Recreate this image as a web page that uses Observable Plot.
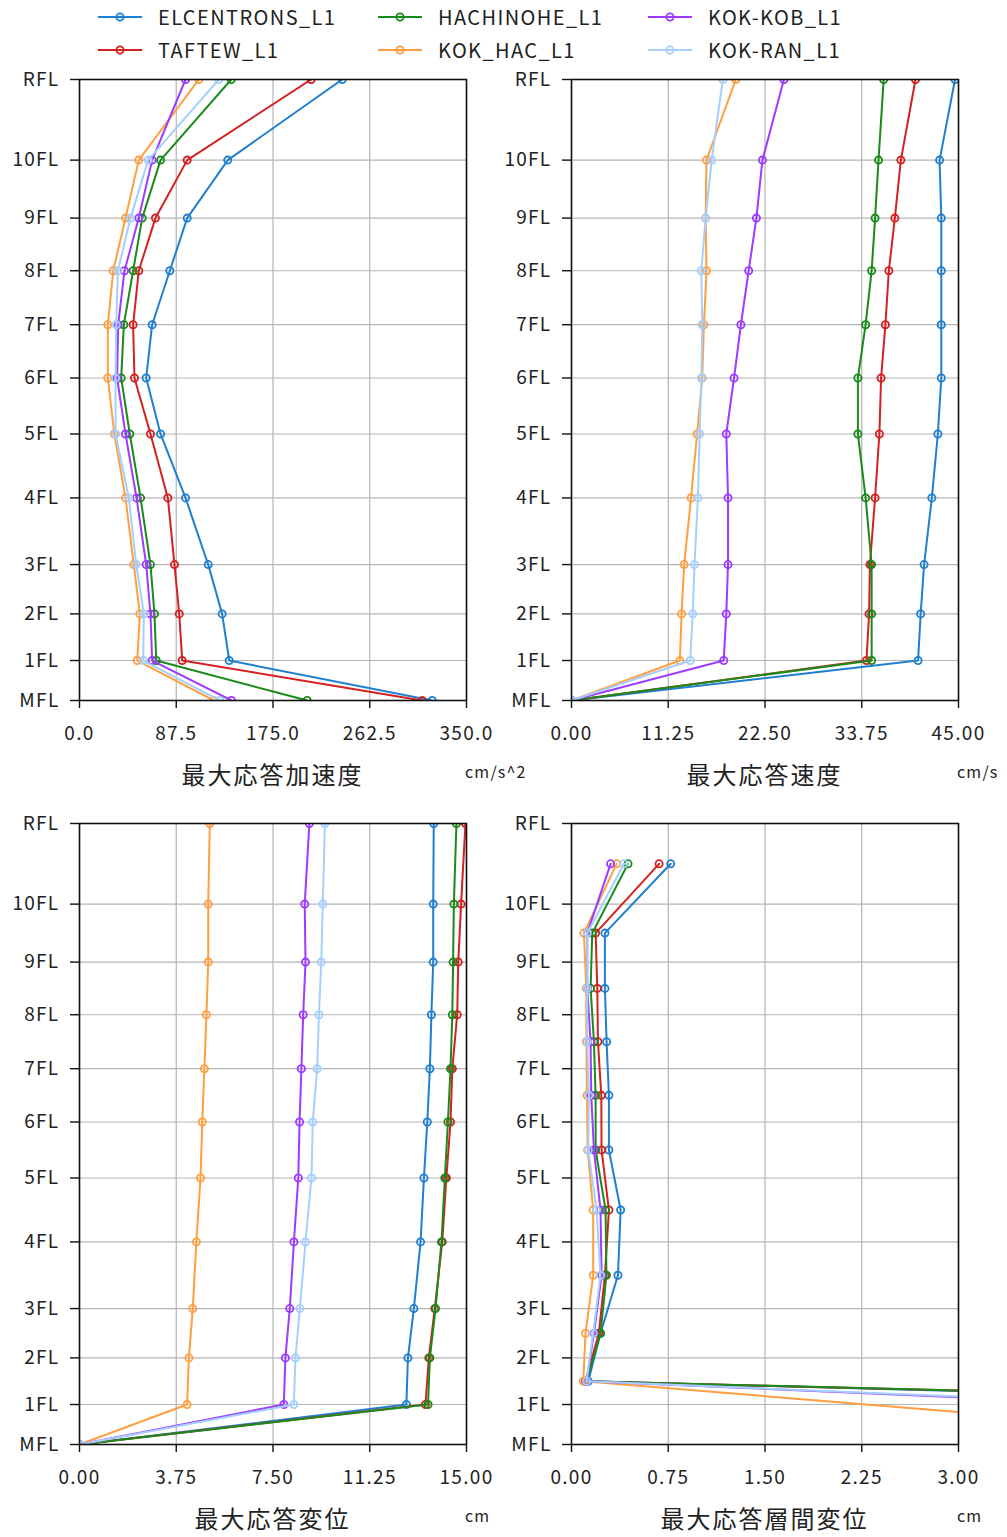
<!DOCTYPE html>
<html>
<head>
<meta charset="utf-8">
<script src="https://cdn.jsdelivr.net/npm/d3@7"></script>
<script src="https://cdn.jsdelivr.net/npm/@observablehq/plot@0.6"></script>
<style>
  html, body { margin: 0; padding: 0; background: #fff; }
  #root { position: relative; width: 1007px; height: 1537px; overflow: hidden;
          font-family: "Noto Sans CJK JP", "Noto Sans", sans-serif; color: #222; }
  .panel { position: absolute; }
  .panel svg { overflow: visible; }
  .panel svg text { letter-spacing: 1.3px; }
  .title { position: absolute; font-size: 24px; line-height: 1; letter-spacing: 2px;
           transform: translateX(-50%); white-space: nowrap; color: #222; }
  .unit { position: absolute; font-size: 16px; line-height: 1; letter-spacing: 1.2px; white-space: nowrap; color: #222; }
  .leg { position: absolute; display: flex; align-items: center; height: 24px; }
  .leg span { font-size: 20px; letter-spacing: 1.4px; line-height: 1; margin-left: 14px; color: #222; }
</style>
</head>
<body>
<div id="root"></div>
<script>
// ---------------- data ----------------
const floors = ["MFL","1FL","2FL","3FL","4FL","5FL","6FL","7FL","8FL","9FL","10FL","RFL"];
const elevations = [0, 3.0, 6.5, 10.2, 15.2, 20.0, 24.2, 28.2, 32.25, 36.2, 40.55, 46.6];
const series = ["ELCENTRONS_L1","TAFTEW_L1","HACHINOHE_L1","KOK_HAC_L1","KOK-KOB_L1","KOK-RAN_L1"];
const colors = ["#1f7fd0","#d42020","#1a8a1a","#ff9f40","#9d3cff","#a4cfff"];

// 最大応答加速度 (cm/s^2), MFL -> RFL
const accElcentro = [319, 135.4, 129, 116.4, 95.9, 73.3, 60.3, 65.7, 81.7, 97.4, 134.1, 237.6];
const accTaft     = [309.9, 92.9, 90.2, 85.9, 79.9, 64.2, 49.7, 48.5, 53.6, 68.7, 97.4, 209.5];
const accHachi    = [205.9, 69.4, 67.8, 64.2, 55.2, 45.5, 37.7, 40.1, 48.5, 56.7, 73.3, 137.2];
const accKokHac   = [121.5, 52.2, 54.6, 49.1, 41.6, 31.5, 25.6, 25.6, 30.5, 41.6, 53.6, 107.9];
const accKokKob   = [137.5, 65.7, 64.2, 60.3, 51.6, 41.6, 34.0, 35.0, 40.7, 53.6, 65.7, 95.9];
const accKokRan   = [126.9, 57.6, 58.2, 51.3, 44.6, 32.6, 32.6, 33.2, 34.7, 46.1, 62.1, 126.0];

// 最大応答速度 (cm/s)
const velElcentro = [0, 40.3, 40.6, 41.0, 41.9, 42.6, 43.0, 43.0, 43.0, 43.0, 42.8, 44.6];
const velTaft     = [0, 34.3, 34.6, 34.7, 35.3, 35.8, 36.0, 36.5, 36.9, 37.6, 38.3, 40.0];
const velHachi    = [0, 34.9, 34.9, 34.9, 34.2, 33.3, 33.3, 34.2, 34.9, 35.3, 35.7, 36.3];
const velKokHac   = [0, 12.6, 12.8, 13.1, 13.9, 14.6, 15.2, 15.4, 15.7, 15.6, 15.7, 19.1];
const velKokKob   = [0, 17.7, 18.0, 18.2, 18.2, 18.0, 18.9, 19.7, 20.6, 21.5, 22.2, 24.7];
const velKokRan   = [0, 13.8, 14.1, 14.3, 14.7, 14.9, 15.1, 15.2, 15.1, 15.6, 16.3, 17.6];

// 最大応答変位 (cm)
const dispElcentro = [0, 12.67, 12.73, 12.96, 13.22, 13.35, 13.48, 13.58, 13.64, 13.71, 13.71, 13.73];
const dispTaft     = [0, 13.41, 13.54, 13.77, 14.06, 14.22, 14.38, 14.45, 14.64, 14.68, 14.79, 14.96];
const dispHachi    = [0, 13.51, 13.58, 13.80, 14.03, 14.16, 14.28, 14.38, 14.45, 14.48, 14.51, 14.61];
const dispKokHac   = [0, 4.17, 4.24, 4.39, 4.53, 4.69, 4.76, 4.84, 4.92, 4.99, 4.99, 5.05];
const dispKokKob   = [0, 7.92, 7.98, 8.15, 8.31, 8.48, 8.53, 8.60, 8.67, 8.76, 8.73, 8.91];
const dispKokRan   = [0, 8.31, 8.37, 8.54, 8.76, 8.99, 9.04, 9.21, 9.28, 9.37, 9.43, 9.51];

// 最大応答層間変位 (cm), stories MFL-1FL ... 10FL-RFL
const driftElcentro = [12.67, 0.130, 0.225, 0.360, 0.381, 0.290, 0.290, 0.272, 0.259, 0.259, 0.769];
const driftTaft     = [13.41, 0.109, 0.212, 0.259, 0.290, 0.233, 0.231, 0.205, 0.200, 0.187, 0.679];
const driftHachi    = [13.51, 0.117, 0.225, 0.271, 0.264, 0.187, 0.187, 0.174, 0.148, 0.161, 0.438];
const driftKokHac   = [4.17, 0.091, 0.109, 0.168, 0.168, 0.125, 0.120, 0.115, 0.115, 0.096, 0.350];
const driftKokKob   = [7.92, 0.117, 0.174, 0.233, 0.225, 0.174, 0.153, 0.148, 0.122, 0.122, 0.303];
const driftKokRan   = [8.31, 0.117, 0.168, 0.225, 0.194, 0.130, 0.135, 0.122, 0.122, 0.122, 0.407];

const accTicks   = [0, 87.5, 175, 262.5, 350];
const velTicks   = [0, 11.25, 22.5, 33.75, 45];
const dispTicks  = [0, 3.75, 7.5, 11.25, 15];
const driftTicks = [0, 0.75, 1.5, 2.25, 3];

// mid-story elevations for story drift
const midStory = d3.range(elevations.length - 1).map(i => (elevations[i] + elevations[i + 1]) / 2);

// ---------------- drawing ----------------
const root = document.getElementById("root");
const FONT = '"Noto Sans CJK JP", "Noto Sans", sans-serif';

function panel({values, levels, ticks, fmt, left, top, title, unit}) {
  const marks = [
    Plot.gridX(ticks, {stroke: "#b4b4b4", strokeOpacity: 1, strokeWidth: 1.2}),
    Plot.gridY(elevations, {stroke: "#b4b4b4", strokeOpacity: 1, strokeWidth: 1.2})
  ];
  series.forEach((s, i) => {
    const data = values[i].map((v, j) => ({series: s, x: v, y: levels[j]}));
    marks.push(Plot.line(data, {x: "x", y: "y", stroke: colors[i], strokeWidth: 2, clip: true}));
    marks.push(Plot.dot(data, {x: "x", y: "y", stroke: colors[i], fill: "none", r: 3.6, strokeWidth: 1.8, clip: true}));
  });
  marks.push(Plot.frame({stroke: "#111", strokeWidth: 1.6}));
  marks.push(Plot.axisX(ticks, {tickFormat: fmt, tickSize: 8, tickPadding: 18, label: null, fontSize: 19, stroke: "#111", strokeWidth: 1.4}));
  marks.push(Plot.axisY(elevations, {tickFormat: d => floors[elevations.indexOf(d)], tickSize: 9, tickPadding: 11, label: null, fontSize: 19, stroke: "#111", strokeWidth: 1.4}));

  const chart = Plot.plot({
    width: 503, height: 740,
    marginLeft: 79, marginRight: 37, marginTop: 19, marginBottom: 100,
    x: {domain: [ticks[0], ticks[ticks.length - 1]]},
    y: {domain: [0, elevations[elevations.length - 1]]},
    style: {fontFamily: FONT, fontSize: "19px", color: "#222", background: "transparent", overflow: "visible"},
    marks
  });
  const wrap = document.createElement("div");
  wrap.className = "panel";
  wrap.style.left = left + "px";
  wrap.style.top = top + "px";
  wrap.appendChild(chart);
  root.appendChild(wrap);

  const t = document.createElement("div");
  t.className = "title";
  t.textContent = title;
  t.style.left = (left + 79 + 387 / 2) + "px";
  t.style.top = (top + 19 + 621 + 62) + "px";
  root.appendChild(t);

  const u = document.createElement("div");
  u.className = "unit";
  u.textContent = unit;
  u.style.left = (left + 465) + "px";
  u.style.top = (top + 19 + 621 + 63) + "px";
  root.appendChild(u);
}

panel({values: [accElcentro, accTaft, accHachi, accKokHac, accKokKob, accKokRan], levels: elevations,
       ticks: accTicks, fmt: d3.format(".1f"), left: 0, top: 60, title: "最大応答加速度", unit: "cm/s^2"});
panel({values: [velElcentro, velTaft, velHachi, velKokHac, velKokKob, velKokRan], levels: elevations,
       ticks: velTicks, fmt: d3.format(".2f"), left: 492, top: 60, title: "最大応答速度", unit: "cm/s"});
panel({values: [dispElcentro, dispTaft, dispHachi, dispKokHac, dispKokKob, dispKokRan], levels: elevations,
       ticks: dispTicks, fmt: d3.format(".2f"), left: 0, top: 804, title: "最大応答変位", unit: "cm"});
panel({values: [driftElcentro, driftTaft, driftHachi, driftKokHac, driftKokKob, driftKokRan], levels: midStory,
       ticks: driftTicks, fmt: d3.format(".2f"), left: 492, top: 804, title: "最大応答層間変位", unit: "cm"});

// ---------------- legend ----------------
const legCols = [98, 378, 648];
const legRows = [17, 50];
series.forEach((s, i) => {
  const col = Math.floor(i / 2), row = i % 2;
  const item = document.createElement("div");
  item.className = "leg";
  item.style.left = legCols[col] + "px";
  item.style.top = (legRows[row] - 12) + "px";
  const ns = "http://www.w3.org/2000/svg";
  const svg = document.createElementNS(ns, "svg");
  svg.setAttribute("width", 46); svg.setAttribute("height", 24);
  const ln = document.createElementNS(ns, "line");
  ln.setAttribute("x1", 0); ln.setAttribute("x2", 44); ln.setAttribute("y1", 12); ln.setAttribute("y2", 12);
  ln.setAttribute("stroke", colors[i]); ln.setAttribute("stroke-width", 2);
  const c = document.createElementNS(ns, "circle");
  c.setAttribute("cx", 22); c.setAttribute("cy", 12); c.setAttribute("r", 3.6);
  c.setAttribute("fill", "none"); c.setAttribute("stroke", colors[i]); c.setAttribute("stroke-width", 1.8);
  svg.appendChild(ln); svg.appendChild(c);
  const sp = document.createElement("span");
  sp.textContent = s;
  item.appendChild(svg); item.appendChild(sp);
  root.appendChild(item);
});
</script>
</body>
</html>
